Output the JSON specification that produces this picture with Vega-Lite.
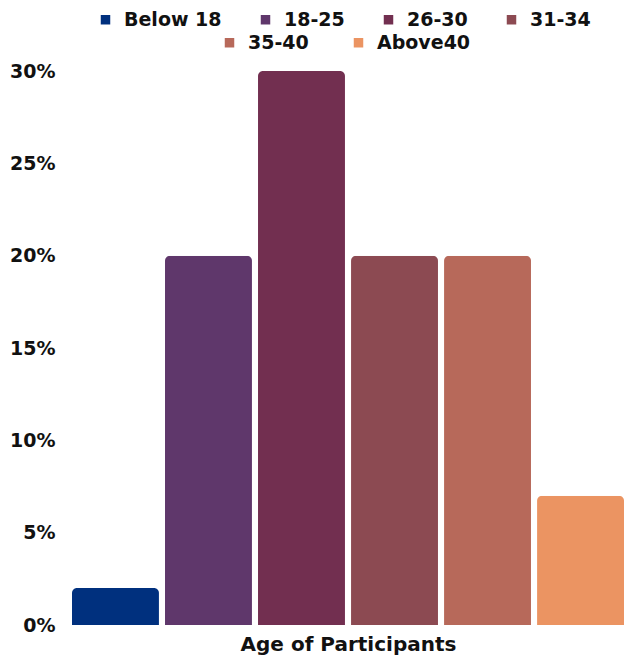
{
  "$schema": "https://vega.github.io/schema/vega-lite/v6.json",
  "width": 552,
  "height": 554,
  "autosize": {"type": "none"},
  "padding": {"left": 72, "top": 71, "right": 0, "bottom": 36},
  "config": {
    "view": {"stroke": null},
    "font": "DejaVu Sans",
    "axis": {"labelFont": "DejaVu Sans", "titleFont": "DejaVu Sans"},
    "legend": {"labelFont": "DejaVu Sans"}
  },
  "data": {
    "values": [
      {"age": "Below 18", "pct": 0.02},
      {"age": "18-25", "pct": 0.20},
      {"age": "26-30", "pct": 0.30},
      {"age": "31-34", "pct": 0.20},
      {"age": "35-40", "pct": 0.20},
      {"age": "Above40", "pct": 0.07}
    ]
  },
  "encoding": {
    "x": {
      "field": "age",
      "type": "nominal",
      "sort": null,
      "scale": {
        "domain": ["Below 18", "18-25", "26-30", "31-34", "35-40", "Above40"],
        "paddingInner": 0.065,
        "paddingOuter": 0
      },
      "axis": {
        "labels": false,
        "ticks": false,
        "domain": false,
        "grid": false,
        "title": "Age of Participants",
        "titleFontSize": 20,
        "titleFontWeight": "bold",
        "titleColor": "#111111",
        "titlePadding": 9
      }
    },
    "y": {
      "field": "pct",
      "type": "quantitative",
      "scale": {"domain": [0, 0.3], "nice": false},
      "axis": {
        "title": null,
        "format": ".0%",
        "values": [0, 0.05, 0.1, 0.15, 0.2, 0.25, 0.3],
        "grid": false,
        "domain": false,
        "ticks": false,
        "labelPadding": 17,
        "labelFontSize": 19,
        "labelFontWeight": "bold",
        "labelColor": "#111111"
      }
    }
  },
  "layer": [
    {
      "transform": [{"filter": {"field": "age", "oneOf": ["Below 18", "18-25", "26-30", "31-34"]}}],
      "mark": {"type": "bar", "cornerRadiusTopLeft": 5, "cornerRadiusTopRight": 5},
      "encoding": {
        "color": {
          "field": "age",
          "type": "nominal",
          "sort": null,
          "scale": {
            "domain": ["Below 18", "18-25", "26-30", "31-34"],
            "range": ["#00307E", "#5F376B", "#722F50", "#8C4A52"]
          },
          "legend": {
            "title": null,
            "orient": "none",
            "direction": "horizontal",
            "legendX": 24,
            "legendY": -61,
            "padding": 0,
            "symbolType": "square",
            "symbolSize": 90,
            "symbolStrokeWidth": 0,
            "labelFontSize": 19,
            "labelFontWeight": "bold",
            "labelColor": "#111111",
            "labelOffset": 9,
            "columnPadding": 34
          }
        }
      }
    },
    {
      "transform": [{"filter": {"field": "age", "oneOf": ["35-40", "Above40"]}}],
      "mark": {"type": "bar", "cornerRadiusTopLeft": 5, "cornerRadiusTopRight": 5},
      "encoding": {
        "color": {
          "field": "age",
          "type": "nominal",
          "sort": null,
          "scale": {
            "domain": ["35-40", "Above40"],
            "range": ["#B7695A", "#EB9462"]
          },
          "legend": {
            "title": null,
            "orient": "none",
            "direction": "horizontal",
            "legendX": 148,
            "legendY": -38,
            "padding": 0,
            "symbolType": "square",
            "symbolSize": 90,
            "symbolStrokeWidth": 0,
            "labelFontSize": 19,
            "labelFontWeight": "bold",
            "labelColor": "#111111",
            "labelOffset": 9,
            "columnPadding": 40
          }
        }
      }
    }
  ],
  "resolve": {"scale": {"color": "independent"}}
}
